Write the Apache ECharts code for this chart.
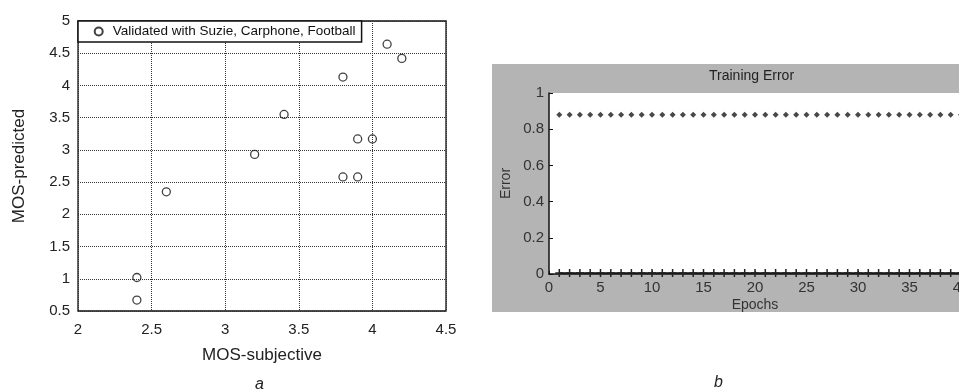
<!DOCTYPE html>
<html>
<head>
<meta charset="utf-8">
<script src="https://cdn.jsdelivr.net/npm/echarts@6/dist/echarts.min.js"></script>
<style>
html,body{margin:0;padding:0;background:#fff;}
#c{width:959px;height:390px;}
</style>
</head>
<body>
<div id="c"></div>
<script>
// ---- Chart a: MOS scatter ----
const mosSubjective = [2.4, 2.4, 2.6, 3.2, 3.4, 3.8, 3.8, 3.9, 3.9, 4.0, 4.1, 4.2];
const mosPredicted  = [1.02, 0.67, 2.35, 2.93, 3.55, 4.13, 2.58, 2.58, 3.17, 3.17, 4.64, 4.42];
const legendLabel = 'Validated with Suzie, Carphone, Football';

// ---- Chart b: training error ----
const epochs = [1,2,3,4,5,6,7,8,9,10,11,12,13,14,15,16,17,18,19,20,21,22,23,24,25,26,27,28,29,30,31,32,33,34,35,36,37,38,39,40];
const errorUpper = [0.88,0.88,0.88,0.88,0.88,0.88,0.88,0.88,0.88,0.88,0.88,0.88,0.88,0.88,0.88,0.88,0.88,0.88,0.88,0.88,0.88,0.88,0.88,0.88,0.88,0.88,0.88,0.88,0.88,0.88,0.88,0.88,0.88,0.88,0.88,0.88,0.88,0.88,0.88,0.88];
const errorLower = [0.005,0.005,0.005,0.005,0.005,0.005,0.005,0.005,0.005,0.005,0.005,0.005,0.005,0.005,0.005,0.005,0.005,0.005,0.005,0.005,0.005,0.005,0.005,0.005,0.005,0.005,0.005,0.005,0.005,0.005,0.005,0.005,0.005,0.005,0.005,0.005,0.005,0.005,0.005,0.005];

const scatterData = mosSubjective.map((x, i) => [x, mosPredicted[i]]);
const upperData = epochs.map((e, i) => [e, errorUpper[i]]);
const lowerData = epochs.map((e, i) => [e, errorLower[i]]);

const fA = 'Liberation Sans, Arial, sans-serif';
const chart = echarts.init(document.getElementById('c'), null, {renderer: 'canvas'});

chart.setOption({
  animation: false,
  backgroundColor: '#ffffff',
  graphic: [{
    type: 'rect', z: -100,
    shape: {x: 492, y: 64, width: 467, height: 248},
    style: {fill: '#b4b4b4'}
  }],
  title: [
    {text: 'Training Error', left: 709, top: 69, padding: 0,
     textStyle: {fontFamily: fA, fontSize: 14, fontWeight: 'normal', color: '#222'}},
    {text: 'a', left: 255, top: 377, padding: 0,
     textStyle: {fontFamily: fA, fontSize: 16, fontStyle: 'italic', fontWeight: 'normal', color: '#222'}},
    {text: 'b', left: 714, top: 375, padding: 0,
     textStyle: {fontFamily: fA, fontSize: 16, fontStyle: 'italic', fontWeight: 'normal', color: '#222'}}
  ],
  legend: [{
    data: [legendLabel],
    left: 78, top: 21,
    orient: 'horizontal',
    itemWidth: 18, itemHeight: 8,
    padding: [3.5, 6, 3.5, 15.7],
    borderColor: '#111', borderWidth: 1.5,
    backgroundColor: '#fff',
    textStyle: {fontFamily: fA, fontSize: 13.5, color: '#111'},
    z: 10
  }],
  grid: [
    {left: 78, top: 21, width: 368, height: 290, show: true, outerBoundsMode: 'none',
     borderColor: '#111', borderWidth: 1.3, backgroundColor: 'rgba(0,0,0,0)'},
    {left: 549, top: 93, width: 412, height: 181, show: true, outerBoundsMode: 'none',
     borderWidth: 0, backgroundColor: '#ffffff', z: 2}
  ],
  xAxis: [
    {gridIndex: 0, type: 'value', min: 2, max: 4.5, interval: 0.5,
     name: 'MOS-subjective', nameLocation: 'middle', nameGap: 36,
     nameTextStyle: {fontFamily: fA, fontSize: 17, color: '#222'},
     axisLine: {show: false}, axisTick: {show: false},
     axisLabel: {fontFamily: fA, fontSize: 15, color: '#222', margin: 11},
     splitLine: {show: true, lineStyle: {type: 'dotted', color: '#333', width: 1}}},
    {gridIndex: 1, type: 'value', min: 0, max: 40, interval: 5,
     name: 'Epochs', nameLocation: 'middle', nameGap: 24,
     nameTextStyle: {fontFamily: fA, fontSize: 14, color: '#333'},
     axisLine: {show: true, onZero: false, lineStyle: {color: '#111', width: 1.5}},
     axisTick: {show: true, inside: true, length: 3, lineStyle: {color: '#111'}},
     axisLabel: {fontFamily: fA, fontSize: 15, color: '#333', margin: 6},
     splitLine: {show: false}, z: 3}
  ],
  yAxis: [
    {gridIndex: 0, type: 'value', min: 0.5, max: 5, interval: 0.5,
     name: 'MOS-predicted', nameLocation: 'middle', nameGap: 50,
     nameTextStyle: {fontFamily: fA, fontSize: 17, color: '#222'},
     axisLine: {show: false}, axisTick: {show: false},
     axisLabel: {fontFamily: fA, fontSize: 15, color: '#222', margin: 8},
     splitLine: {show: true, lineStyle: {type: 'dotted', color: '#333', width: 1}}},
    {gridIndex: 1, type: 'value', min: 0, max: 1, interval: 0.2,
     name: 'Error', nameLocation: 'middle', nameGap: 36,
     nameTextStyle: {fontFamily: fA, fontSize: 14, color: '#333'},
     axisLine: {show: true, onZero: false, lineStyle: {color: '#111', width: 1.5}},
     axisTick: {show: true, inside: true, length: 4, lineStyle: {color: '#111'}},
     axisLabel: {fontFamily: fA, fontSize: 15, color: '#333', margin: 5},
     splitLine: {show: false}, z: 3}
  ],
  series: [
    {name: legendLabel, type: 'scatter', xAxisIndex: 0, yAxisIndex: 0,
     data: scatterData, symbol: 'circle', symbolSize: 8,
     itemStyle: {color: 'rgba(0,0,0,0)', borderColor: '#111', borderWidth: 1.3}, z: 5},
    {name: 'upper', type: 'scatter', xAxisIndex: 1, yAxisIndex: 1,
     data: upperData, symbol: 'diamond', symbolSize: 6,
     itemStyle: {color: '#1a1a1a'}, z: 5},
    {name: 'lower', type: 'line', xAxisIndex: 1, yAxisIndex: 1,
     data: lowerData, symbol: 'path://M5,0L5,10M0,5L10,5', symbolSize: 8,
     showSymbol: true, showAllSymbol: true,
     lineStyle: {color: '#111', width: 1.8},
     itemStyle: {color: 'rgba(0,0,0,0)', borderColor: '#222', borderWidth: 1.5}, z: 5}
  ]
});
</script>
</body>
</html>
